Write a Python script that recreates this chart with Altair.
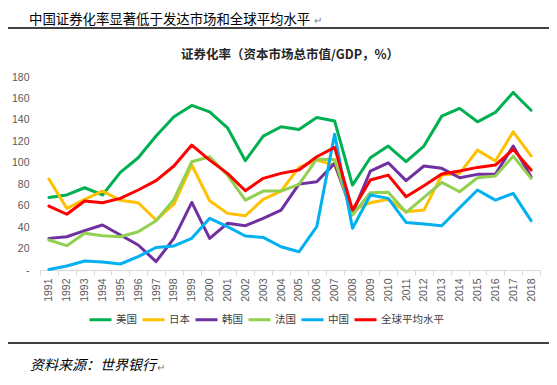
import altair as alt
import pandas as pd

years = ["1991", "1992", "1993", "1994", "1995", "1996", "1997", "1998", "1999", "2000",
         "2001", "2002", "2003", "2004", "2005", "2006", "2007", "2008", "2009", "2010",
         "2011", "2012", "2013", "2014", "2015", "2016", "2017", "2018"]

series_names = ["美国", "日本", "韩国", "法国", "中国", "全球平均水平"]
colors = ["#00B050", "#FFC000", "#7030A0", "#92D050", "#00B0F0", "#FF0000"]

us = [67.7, 70, 76.7, 70, 91, 104.7, 125, 143, 153.5, 147.5, 132.6, 101.9, 124.9, 133.6,
      131, 142.3, 138.9, 79.2, 104.7, 115.6, 101, 115.6, 143.5, 150.7, 138.2, 147, 165.6, 149]
japan = [84.8, 57.5, 65.9, 73.6, 65, 62.7, 46.6, 61.5, 97.9, 64.6, 52.8, 50.6, 65.9, 73.6,
         95.7, 102.5, 97.9, 55.9, 62.7, 65.9, 54.4, 55.9, 88.5, 90.1, 111.8, 101.6, 128.9, 106.5]
korea = [29.5, 31, 36.7, 42, 32.6, 23.3, 7.8, 29.5, 63, 29.5, 43.5, 41.3, 48.2, 55.9,
         80.1, 82.3, 99.4, 52.8, 92.3, 100, 83.3, 97, 94.8, 86, 89.2, 89.2, 115.6, 87]
france = [28, 22.7, 34.2, 32, 31, 35.7, 46, 65.9, 101, 105.6, 88.5, 65.2, 73.6, 73.6,
          79.8, 103.4, 103.1, 51.3, 72, 72.4, 53.8, 67.7, 81.7, 73, 86, 87.6, 106.2, 85.5]
china = [0.5, 3.7, 8.4, 7.5, 5.6, 12.4, 21, 22.4, 29.5, 48.2, 40.4, 31.7, 30.4, 21.7,
         17, 40.4, 126.7, 38.9, 70, 66.8, 44.4, 42.9, 41.3, 58.1, 74.6, 65.2, 71.4, 46]
world = [59.6, 52, 64.3, 62.7, 66.8, 74.6, 83.3, 97, 116.5, 102.5, 90.1, 73.9, 85.5, 90.1,
         93.2, 105.6, 114.3, 55.9, 83.9, 88.5, 68.3, 78.6, 89.5, 92.3, 95.7, 97.9, 112.5, 93.2]

y_ticks = [0, 20, 40, 60, 80, 100, 120, 140, 160, 180]

header = "中国证券化率显著低于发达市场和全球平均水平"
chart_title = "证券化率（资本市场总市值/GDP，%）"
footer = "资料来源：世界银行"

rows = []
for name, vals in zip(series_names, [us, japan, korea, france, china, world]):
    for yr, v in zip(years, vals):
        rows.append({"year": yr, "series": name, "value": v})
df = pd.DataFrame(rows)

CJK = "Noto Sans CJK SC"
LAT = "Liberation Sans"

lines = alt.Chart(df).mark_line(strokeWidth=3, strokeJoin="round", strokeCap="round").encode(
    x=alt.X("year:O", sort=years,
            scale=alt.Scale(type="band", paddingInner=0, paddingOuter=0),
            axis=alt.Axis(title=None, labelAngle=-90, labelFontSize=10.5, labelColor="#595959",
                          labelFont=LAT, domainColor="#d9d9d9", tickColor="#d9d9d9",
                          tickSize=5, tickBand="extent", labelPadding=3, grid=False)),
    y=alt.Y("value:Q", scale=alt.Scale(domain=[0, 180], nice=False),
            axis=alt.Axis(title=None, values=y_ticks,
                          labelExpr="datum.value == 0 ? '-' : datum.label",
                          domain=False, ticks=False, grid=False, labelPadding=11,
                          labelFontSize=10.5, labelColor="#595959", labelFont=LAT)),
    color=alt.Color("series:N", scale=alt.Scale(domain=series_names, range=colors),
                    legend=alt.Legend(title=None, orient="none", legendX=48, legendY=230,
                                      direction="horizontal", columns=6,
                                      symbolType="stroke", symbolSize=484, symbolStrokeWidth=3,
                                      labelFont=CJK, labelFontSize=10.5, labelColor="#404040",
                                      columnPadding=-1, labelOffset=3, padding=0)),
)


def txt(text, x, y, **kw):
    return alt.Chart(alt.Data(values=[{"t": text}])).mark_text(**kw).encode(
        x=alt.value(x), y=alt.value(y), text="t:N")


def hline(x1, x2, y):
    return alt.Chart(alt.Data(values=[{"a": 1}])).mark_rule(color="#000000", strokeWidth=1.3).encode(
        x=alt.value(x1), x2=alt.value(x2), y=alt.value(y))


layers = [
    lines,
    txt(header, -11, -53, font=CJK, fontSize=13.4, align="left", baseline="alphabetic", color="#000000"),
    txt("↵", 274, -53, font=CJK, fontSize=10, align="left", baseline="alphabetic", color="#808080"),
    hline(-40, 520, -49),
    txt(chart_title, 250, -22, font=CJK, fontSize=12.5, fontWeight="bold", align="center",
        baseline="middle", color="#262626"),
    hline(-40, 520, 266),
    txt(footer, -10, 289, font=CJK, fontSize=14, fontStyle="italic", align="left",
        baseline="middle", color="#000000"),
    txt("↵", 117, 291, font=CJK, fontSize=10, align="left", baseline="middle", color="#808080"),
]

chart = alt.layer(*layers).properties(
    width=500, height=193,
    autosize=alt.AutoSizeParams(type="none"),
    padding={"left": 32, "top": 69, "right": 9, "bottom": 107},
).configure_view(stroke=None)

chart.save("out.html", embed_options={"renderer": "svg", "actions": False})
